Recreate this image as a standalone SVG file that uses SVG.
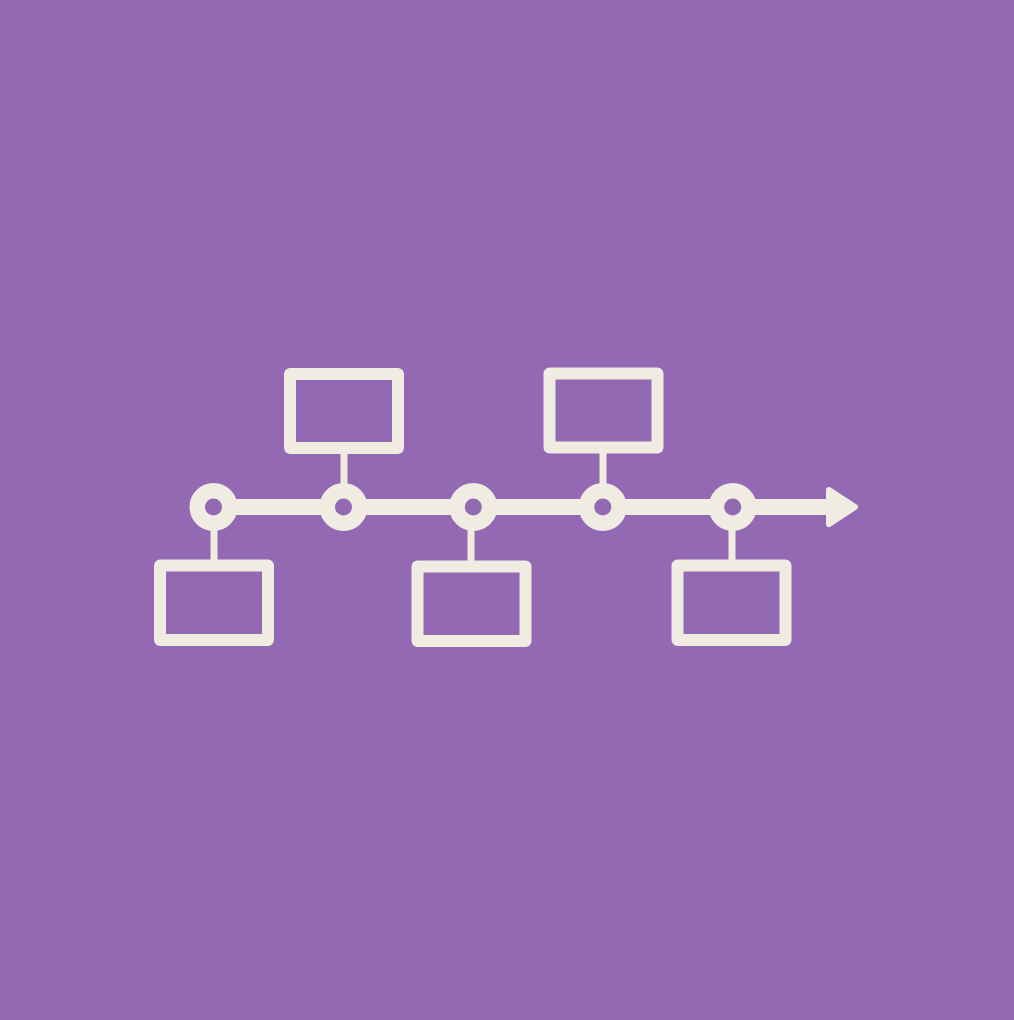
<svg xmlns="http://www.w3.org/2000/svg" width="1014" height="1020" viewBox="0 0 1014 1020">
<style>
.box{fill:none;stroke:#F0ECE2;stroke-width:12;stroke-linejoin:round}
.ring{fill:#9369B4;stroke:#F0ECE2;stroke-width:15.5}
.stem{stroke:#F0ECE2;stroke-width:7}
.axis{stroke:#F0ECE2;stroke-width:16}
</style>
<rect width="1014" height="1020" fill="#9369B4"/>
<g id="connectors">
<line class="axis" x1="213" y1="507" x2="832" y2="507"/>
<polygon points="829,490 855,507 829,524" fill="#F0ECE2" stroke="#F0ECE2" stroke-width="6" stroke-linejoin="round"/>
<line class="stem" x1="344" y1="448" x2="344" y2="490"/>
<line class="stem" x1="603" y1="448" x2="603" y2="490"/>
<line class="stem" x1="214" y1="524" x2="214" y2="566"/>
<line class="stem" x1="471" y1="524" x2="471" y2="566"/>
<line class="stem" x1="732" y1="524" x2="732" y2="566"/>
</g>
<g id="n1"><circle class="ring" cx="213.5" cy="507" r="16.25"/></g>
<g id="n2"><circle class="ring" cx="343.5" cy="507" r="16.25"/></g>
<g id="n3"><circle class="ring" cx="473.3" cy="507" r="16.25"/></g>
<g id="n4"><circle class="ring" cx="602.8" cy="507" r="16.25"/></g>
<g id="n5"><circle class="ring" cx="732.7" cy="507" r="16.25"/></g>
<g id="b1"><rect class="box" x="290" y="374" width="108" height="74"/></g>
<g id="b2"><rect class="box" x="549.5" y="373.5" width="108" height="74"/></g>
<g id="b3"><rect class="box" x="160" y="565.5" width="108" height="74.5"/></g>
<g id="b4"><rect class="box" x="417.5" y="566.5" width="108" height="74.5"/></g>
<g id="b5"><rect class="box" x="677.5" y="565.5" width="108" height="74.5"/></g>
</svg>
